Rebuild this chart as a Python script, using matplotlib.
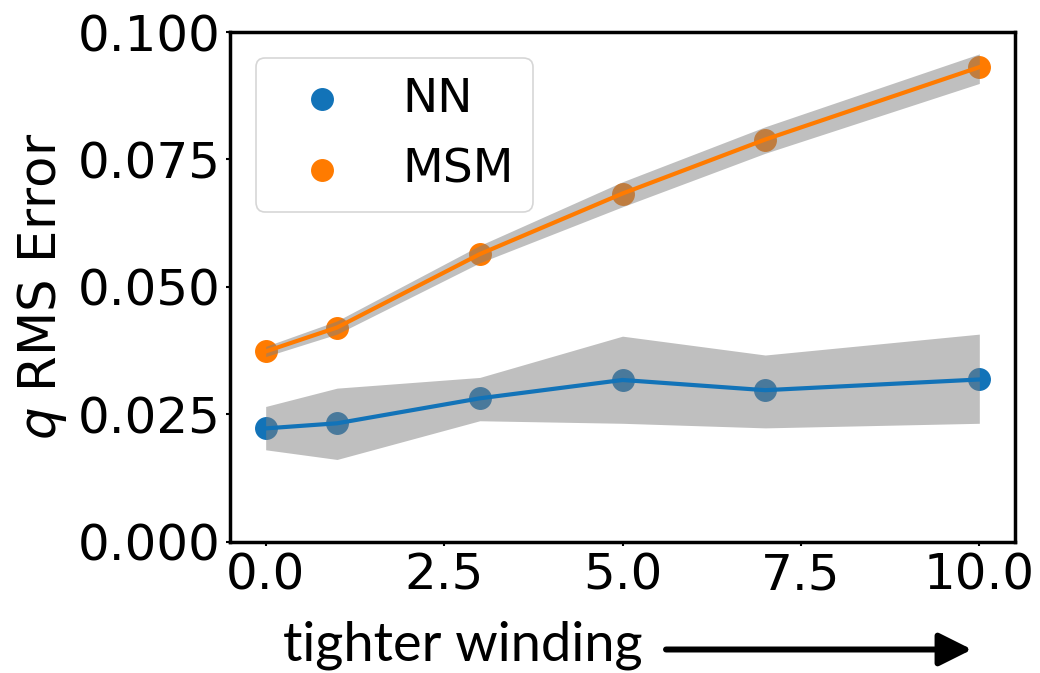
import matplotlib
matplotlib.use("Agg")
import matplotlib.pyplot as plt
from matplotlib.patches import FancyArrowPatch

# Winding strength and RMS error of q for both models
winding = [0, 1, 3, 5, 7, 10]

nn_mean = [0.0222, 0.0232, 0.0281, 0.0317, 0.0297, 0.0318]
nn_low = [0.0180, 0.0161, 0.0237, 0.0232, 0.0223, 0.0232]
nn_high = [0.0265, 0.0301, 0.0322, 0.0403, 0.0366, 0.0407]

msm_mean = [0.0373, 0.0420, 0.0564, 0.0683, 0.0789, 0.0931]
msm_low = [0.0363, 0.0407, 0.0547, 0.0657, 0.0762, 0.0899]
msm_high = [0.0383, 0.0433, 0.0581, 0.0706, 0.0814, 0.0957]

series_names = ["NN", "MSM"]
series_colors = ["#1273b8", "#ff7b00"]

x_ticks = [0.0, 2.5, 5.0, 7.5, 10.0]
y_ticks = [0.000, 0.025, 0.050, 0.075, 0.100]

W, H = 1040, 673
fig = plt.figure(figsize=(W / 100, H / 100), dpi=100)
ax = fig.add_axes([230 / W, 1 - 541.5 / H, (1015 - 230) / W, (541.5 - 32) / H])

series = [(nn_mean, nn_low, nn_high), (msm_mean, msm_low, msm_high)]
for name, color, (mean, low, high) in zip(series_names, series_colors, series):
    ax.scatter(winding, mean, s=240, color=color, label=name, zorder=1)
    ax.fill_between(winding, low, high, color="grey", alpha=0.5, linewidth=0, zorder=1)
    ax.plot(winding, mean, color=color, linewidth=3, zorder=2)

ax.set_xlim(-0.5, 10.5)
ax.set_ylim(0, 0.1)
ax.set_xticks(x_ticks)
ax.set_yticks(y_ticks)
ax.set_xticklabels([f"{v:.1f}" for v in x_ticks])
ax.set_yticklabels([f"{v:.3f}" for v in y_ticks])
ax.tick_params(axis="both", labelsize=36, length=3, width=1.5, pad=4, colors="black")
for sp in ax.spines.values():
    sp.set_linewidth(2.5)
    sp.set_color("black")

ax.set_ylabel(r"$q$ RMS Error", fontsize=37, labelpad=6)

leg = ax.legend(loc="upper left", fontsize=34, markerscale=1.0,
                borderaxespad=0.55, frameon=True, labelspacing=0.55,
                borderpad=0.4, handletextpad=0.7)
leg.get_frame().set_linewidth(1.2)

# Direction caption under the x axis
fig.text(283 / W, 1 - 660 / H, "tighter winding", fontsize=39, family="Lato",
         ha="left", va="baseline", color="black")
arrow = FancyArrowPatch((666, H - 649.5), (972, H - 649.5), transform=None,
                        arrowstyle="-|>,head_length=1.0,head_width=0.5",
                        mutation_scale=20, linewidth=4.3, color="black",
                        shrinkA=0, shrinkB=0)
fig.patches.append(arrow)

fig.savefig("out.png", dpi=100)
